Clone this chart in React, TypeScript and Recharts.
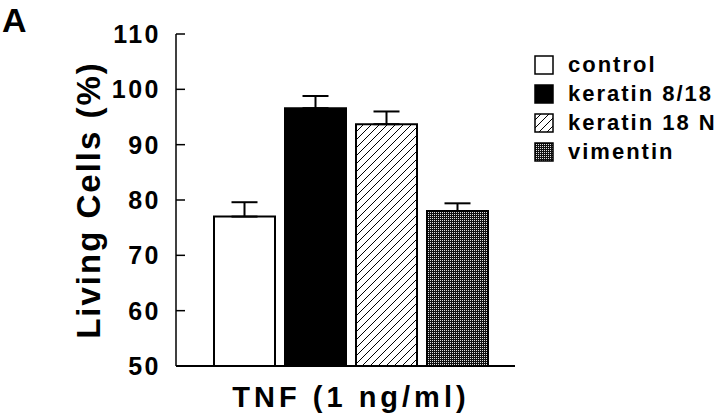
import React from 'react'
import {
  BarChart, Bar, XAxis, YAxis, ErrorBar, Legend,
} from 'recharts'

const categories = ['TNF (1 ng/ml)']
const seriesNames = ['control', 'keratin 8/18', 'keratin 18 N', 'vimentin']
const seriesKeys = ['control', 'k818', 'k18n', 'vim']
const values = [77.0, 96.6, 93.7, 78.0]
const errors = [2.6, 2.2, 2.3, 1.4]
const yTicks = [50, 60, 70, 80, 90, 100, 110]

const fills = ['#ffffff', '#000000', 'url(#hatch)', 'url(#dots)']

const FONT = '"Liberation Sans", Arial, Helvetica, sans-serif'

const row: Record<string, any> = { name: categories[0] }
seriesKeys.forEach((k, i) => {
  row[k] = values[i]
  row[k + 'Err'] = [0, errors[i]]
})
const data = [row]

function Patterns() {
  return (
    <svg width={0} height={0} style={{ position: 'absolute' }}>
      <defs>
        <pattern id="hatch" patternUnits="userSpaceOnUse" width={8} height={8}>
          <rect width={8} height={8} fill="#fff" />
          <path d="M-2,2 l4,-4 M0,8 l8,-8 M6,10 l4,-4" stroke="#000" strokeWidth={1} />
        </pattern>
        <pattern id="dots" patternUnits="userSpaceOnUse" width={2} height={2}>
          <rect width={2} height={2} fill="#111" />
          <rect width={1} height={1} fill="#e0e0e0" />
        </pattern>
      </defs>
    </svg>
  )
}

function LegendBox() {
  return (
    <div style={{ fontFamily: FONT, fontWeight: 'bold', fontSize: 22, letterSpacing: 2, color: '#000' }}>
      {seriesNames.map((n, i) => (
        <div key={n} style={{ display: 'flex', alignItems: 'center', height: 29 }}>
          <svg width={20} height={20} style={{ marginRight: 14 }}>
            <rect x={1} y={1} width={18} height={18} fill={fills[i]} stroke="#000" strokeWidth={1.5} />
          </svg>
          <span style={{ whiteSpace: 'nowrap' }}>{n}</span>
        </div>
      ))}
    </div>
  )
}

function YLabel(props: any) {
  const vb = props.viewBox
  const x = vb.x + 100
  const y = vb.y + vb.height / 2
  return (
    <text
      x={x}
      y={y}
      transform={`rotate(-90, ${x}, ${y})`}
      textAnchor="middle"
      fontFamily={FONT}
      fontWeight="bold"
      fontSize={33}
      letterSpacing={2}
      fill="#000"
    >
      Living Cells (%)
    </text>
  )
}

export default function App() {
  return (
    <div style={{ position: 'absolute', left: 0, top: 0, width: 720, height: 418, background: '#fff' }}>
      <Patterns />
      <div
        style={{
          position: 'absolute', left: 2, top: 0, fontFamily: FONT, fontWeight: 'bold',
          fontSize: 34, lineHeight: '40px', color: '#000',
        }}
      >
        A
      </div>
      <BarChart
        width={720}
        height={418}
        data={data}
        margin={{ top: 34, right: 205, left: 0, bottom: 0 }}
        barSize={61}
        barGap={10}
      >
        <XAxis
          dataKey="name"
          padding={{ left: 11, right: 0 }}
          height={52}
          interval={0}
          tickLine={false}
          tickSize={0}
          tickMargin={20}
          axisLine={{ stroke: '#000', strokeWidth: 2 }}
          tick={{ fill: '#000', fontSize: 29, fontWeight: 'bold', fontFamily: FONT, letterSpacing: 4 }}
        />
        <XAxis
          xAxisId="top"
          dataKey="name"
          orientation="top"
          height={0}
          tick={false}
          tickLine={false}
          axisLine={{ stroke: '#000', strokeWidth: 1.5 }}
        />
        <YAxis
          width={176}
          domain={[50, 110]}
          ticks={yTicks}
          interval={0}
          allowDataOverflow
          tickSize={-9}
          tickMargin={24}
          tickLine={{ stroke: '#000', strokeWidth: 1.5 }}
          axisLine={{ stroke: '#000', strokeWidth: 1.5 }}
          tick={{ fill: '#000', fontSize: 25, fontWeight: 'bold', fontFamily: FONT, letterSpacing: 2.5 }}
          label={<YLabel />}
        />
        <YAxis
          yAxisId="right"
          orientation="right"
          width={0}
          domain={[50, 110]}
          tick={false}
          tickLine={false}
          axisLine={{ stroke: '#000', strokeWidth: 1.5 }}
        />
        <Legend
          layout="vertical"
          align="center"
          verticalAlign="middle"
          wrapperStyle={{ left: 534, top: 50, width: 186 }}
          content={() => <LegendBox />}
        />
        {seriesKeys.map((k, i) => (
          <Bar
            key={k}
            dataKey={k}
            name={seriesNames[i]}
            fill={fills[i]}
            stroke="#000"
            strokeWidth={2}
            isAnimationActive={false}
          >
            <ErrorBar dataKey={k + 'Err'} width={13} stroke="#000" strokeWidth={2} direction="y" />
          </Bar>
        ))}
      </BarChart>
    </div>
  )
}
